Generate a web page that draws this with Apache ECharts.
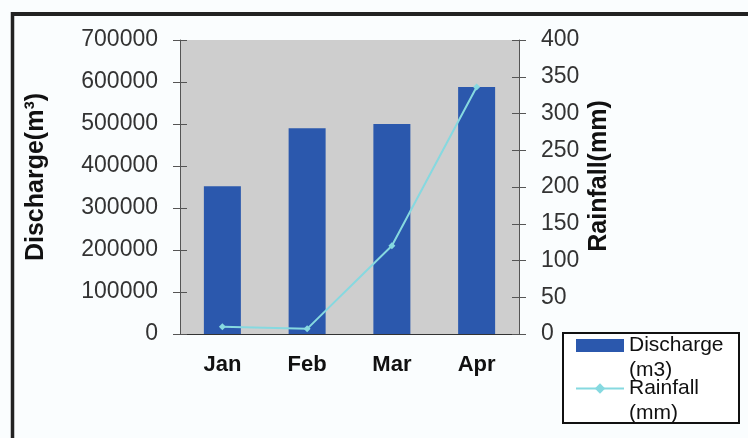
<!DOCTYPE html>
<html>
<head>
<meta charset="utf-8">
<script src="https://cdn.jsdelivr.net/npm/echarts@6/dist/echarts.min.js"></script>
<style>
  html, body { margin: 0; padding: 0; background: #fafdfe; }
  #chart { width: 748px; height: 438px; }
</style>
</head>
<body>
<div id="chart"></div>
<script>
// data
var months = ['Jan', 'Feb', 'Mar', 'Apr'];
var discharge = [352000, 490000, 500000, 588000];   // m3
var rainfall = [10, 7, 120, 336];                    // mm

var FONT = '"Liberation Sans", Arial, sans-serif';

function initChart() {
    var myChart = echarts.init(document.getElementById('chart'));

    var tickLabel = {
        fontSize: 23, color: '#333', fontFamily: FONT, margin: 22,
        formatter: function (v) { return String(v); }
    };

    var option = {
        backgroundColor: '#fafdfe',
        animation: false,
        grid: {
            left: 180, right: 229, top: 40, bottom: 104,
            show: true, backgroundColor: '#cecece', borderWidth: 0
        },
        legend: {
            orient: 'vertical',
            left: 575, top: 308,
            padding: 0,
            itemWidth: 48, itemHeight: 13, itemGap: -32,
            textStyle: { fontSize: 21, color: '#111', fontFamily: FONT, lineHeight: 25 },
            formatter: function (name) { return '\n' + name.replace(' ', '\n'); },
            data: [{ name: 'Discharge (m3)', icon: 'rect' }, { name: 'Rainfall (mm)' }]
        },
        graphic: [
            { type: 'line', shape: { x1: 12.5, y1: 12, x2: 12.5, y2: 438 }, style: { stroke: '#222', lineWidth: 3.5 } },
            { type: 'line', shape: { x1: 11, y1: 14, x2: 748, y2: 14 }, style: { stroke: '#222', lineWidth: 4 } },
            { type: 'rect', z: -1, shape: { x: 563, y: 333, width: 176, height: 90 }, style: { fill: '#fff', stroke: '#111', lineWidth: 2 } }
        ],
        xAxis: {
            type: 'category',
            data: months,
            axisLine: { lineStyle: { color: '#333', width: 1 } },
            axisTick: { show: false },
            axisLabel: { fontSize: 22, fontWeight: 'bold', color: '#111', fontFamily: FONT, margin: 20 }
        },
        yAxis: [
            {
                type: 'value', position: 'left',
                min: 0, max: 700000, interval: 100000,
                name: 'Discharge(m³)', nameLocation: 'middle', nameRotate: 90, nameGap: 131,
                nameTextStyle: { fontSize: 25, fontWeight: 'bold', color: '#111', fontFamily: FONT, padding: [0, 0, 0, 20] },
                axisLine: { show: true, lineStyle: { color: '#555' } },
                axisTick: { show: true, length: 7, lineStyle: { color: '#555' } },
                axisLabel: tickLabel,
                splitLine: { show: false }
            },
            {
                type: 'value', position: 'right',
                min: 0, max: 400, interval: 50,
                name: 'Rainfall(mm)', nameLocation: 'middle', nameRotate: 90, nameGap: 68,
                nameTextStyle: { fontSize: 25, fontWeight: 'bold', color: '#111', fontFamily: FONT, padding: [0, 0, 0, 22] },
                axisLine: { show: true, lineStyle: { color: '#555' } },
                axisTick: { show: true, length: 7, lineStyle: { color: '#555' } },
                axisLabel: tickLabel,
                splitLine: { show: false }
            },
            // inner halves of the crossing ticks
            {
                type: 'value', position: 'left', min: 0, max: 700000, interval: 100000,
                axisLine: { show: false }, axisLabel: { show: false }, splitLine: { show: false },
                axisTick: { show: true, inside: true, length: 7, lineStyle: { color: '#555' } }
            },
            {
                type: 'value', position: 'right', min: 0, max: 400, interval: 50,
                axisLine: { show: false }, axisLabel: { show: false }, splitLine: { show: false },
                axisTick: { show: true, inside: true, length: 7, lineStyle: { color: '#555' } }
            }
        ],
        series: [
            {
                name: 'Discharge (m3)',
                type: 'bar',
                yAxisIndex: 0,
                barWidth: 37,
                itemStyle: { color: '#2b58ad' },
                data: discharge
            },
            {
                name: 'Rainfall (mm)',
                type: 'line',
                yAxisIndex: 1,
                symbol: 'diamond',
                symbolSize: 7,
                lineStyle: { color: '#86d9e0', width: 2 },
                itemStyle: { color: '#86d9e0' },
                data: rainfall
            }
        ]
    };

    myChart.setOption(option);
}

initChart();
</script>
</body>
</html>
